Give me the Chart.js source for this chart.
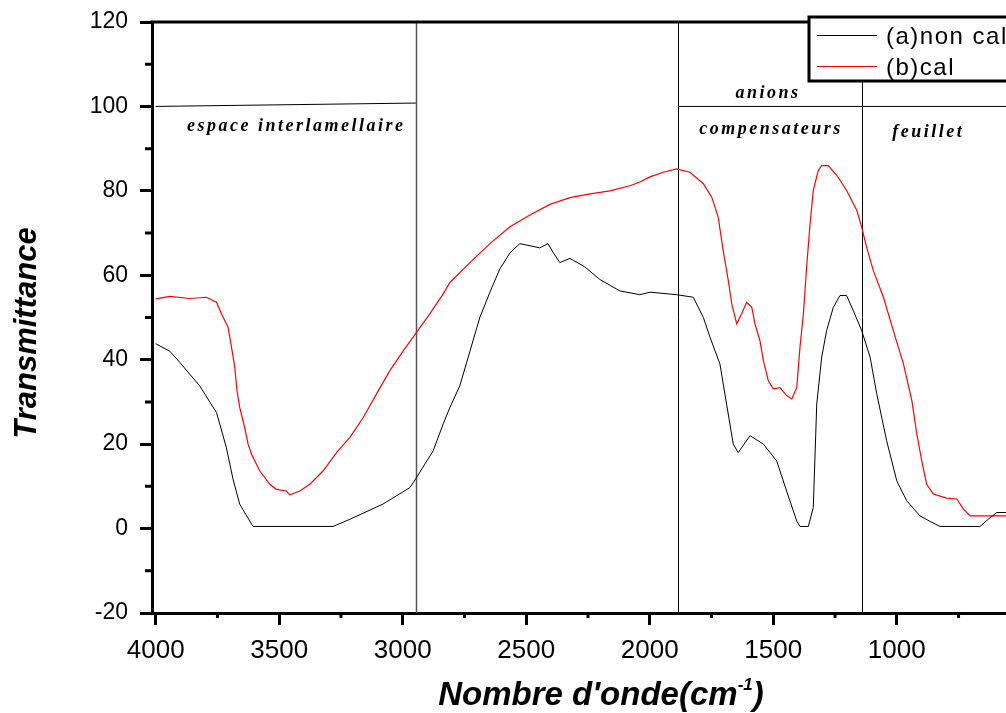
<!DOCTYPE html>
<html>
<head>
<meta charset="utf-8">
<script src="https://cdn.jsdelivr.net/npm/chart.js@4/dist/chart.umd.min.js"></script>
<style>
  html, body { margin: 0; padding: 0; overflow: hidden; background: #fff; }
  #wrap { width: 1060px; height: 713px; }
</style>
</head>
<body>
<div id="wrap"><canvas id="ir" width="1060" height="713"></canvas></div>
<script>
// nombre d'onde (cm-1) et transmittance
const waveA = [4000, 3943, 3903, 3822, 3754, 3714, 3687, 3660, 3606, 3282, 3214, 3080, 2971, 2944, 2877, 2836, 2809, 2769, 2728, 2688,
  2647, 2607, 2566, 2526, 2445, 2412, 2392, 2364, 2323, 2263, 2202, 2121, 2040, 1999, 1891, 1824, 1783, 1756, 1716, 1689,
  1662, 1642, 1594, 1540, 1486, 1446, 1405, 1392, 1358, 1338, 1324, 1304, 1284, 1257, 1230, 1203, 1176, 1142, 1108, 1081,
  1041, 1000, 960, 906, 865, 825, 744, 663, 622, 595, 558, 500, 400];
const transA = [43.8, 42, 39.4, 33.8, 27.5, 19.2, 11.7, 5.8, 0.5, 0.5, 2.2, 5.8, 9.7, 12.1, 18.4, 24.8, 28.7, 33.8, 42, 50,
  56, 61.5, 65.3, 67.5, 66.5, 67.5, 65.5, 63, 64, 62, 59, 56.3, 55.4, 56, 55.4, 54.8, 50, 45.3, 39, 29.5,
  20, 18, 22, 20, 16, 8.9, 1.8, 0.5, 0.5, 5, 29.5, 40.6, 46.9, 52.4, 55.2, 55.2, 51.6, 46.9, 40.6, 31.9,
  20.8, 11.3, 6.6, 3, 1.7, 0.5, 0.5, 0.5, 2.6, 3.8, 3.8, 4.5, 5];

const waveB = [4000, 3943, 3862, 3795, 3754, 3734, 3707, 3693, 3680, 3671, 3660, 3640, 3626, 3612, 3579, 3538, 3511, 3471, 3457, 3417,
  3376, 3322, 3268, 3214, 3160, 3106, 3052, 2998, 2944, 2890, 2836, 2809, 2728, 2647, 2566, 2485, 2404, 2323, 2242, 2161,
  2080, 2040, 1999, 1945, 1891, 1837, 1783, 1749, 1723, 1703, 1682, 1668, 1648, 1628, 1608, 1587, 1574, 1554, 1540, 1520,
  1500, 1473, 1446, 1425, 1405, 1392, 1378, 1365, 1351, 1338, 1318, 1304, 1277, 1243, 1203, 1162, 1142, 1122, 1095, 1054,
  1014, 973, 939, 919, 899, 879, 852, 798, 757, 730, 703, 622, 558, 500, 400];
const transB = [54.4, 55, 54.5, 54.8, 53.6, 50.9, 47.7, 42.9, 38.2, 32.7, 28.7, 24, 20, 17.6, 13.7, 10.5, 9.3, 8.9, 8, 8.9,
  10.5, 13.7, 18, 21.6, 26.3, 31.9, 37.4, 42.1, 46.5, 50.9, 55.6, 58.3, 63, 67.5, 71.5, 74.3, 76.8, 78.4, 79.3, 80,
  81.2, 82.1, 83.3, 84.4, 85.2, 84.4, 81.7, 78.5, 73.8, 65.9, 58.7, 53.2, 48.5, 50.9, 53.6, 52.4, 48.5, 44.5, 39.8, 35,
  33.1, 33.4, 31.5, 30.7, 33.4, 42.9, 50.9, 61.9, 72.2, 80.1, 84.8, 86, 86, 83.7, 80.1, 75.4, 71.4, 66.6, 61.1, 54.8,
  46.9, 39, 30.3, 22.4, 16.1, 10.5, 8.2, 7.2, 7, 4.6, 3, 3, 3, 3, 3];

const seriesNames = ['(a)non cal', '(b)cal'];
const xTicks = [4000, 3500, 3000, 2500, 2000, 1500, 1000];
const xMinor = [3750, 3250, 2750, 2250, 1750, 1250, 750];
const yTicks = [-20, 0, 20, 40, 60, 80, 100, 120];
const yMinor = [-10, 10, 30, 50, 70, 90, 110];

// zones du spectre
const zoneLines = [2947, 1886, 1141];
const zoneTexts = ['espace interlamellaire', 'anions', 'compensateurs', 'feuillet'];
const zoneTextX = [3431, 1521, 1509, 873];
const zoneTextY = [95.3, 103.1, 94.6, 93.9];

const pts = (xs, ys) => xs.map((x, i) => ({ x: x, y: ys[i] }));

const decor = {
  id: 'decor',
  beforeDatasetsDraw(chart) {
    const { ctx, chartArea: a, scales: { x, y } } = chart;
    ctx.save();
    // lignes de séparation des zones
    zoneLines.forEach((w, i) => {
      const px = Math.round(x.getPixelForValue(w)) + 0.5;
      ctx.strokeStyle = i === 0 ? '#555' : '#000';
      ctx.lineWidth = i === 0 ? 1.5 : 1;
      ctx.beginPath();
      ctx.moveTo(px, a.top);
      ctx.lineTo(px, a.bottom);
      ctx.stroke();
    });
    ctx.strokeStyle = '#000';
    ctx.lineWidth = 1;
    ctx.beginPath();
    ctx.moveTo(x.getPixelForValue(4000), y.getPixelForValue(100));
    ctx.lineTo(x.getPixelForValue(zoneLines[0]), y.getPixelForValue(100.8));
    ctx.moveTo(x.getPixelForValue(zoneLines[1]), y.getPixelForValue(100));
    ctx.lineTo(a.right, y.getPixelForValue(100));
    ctx.stroke();

    ctx.fillStyle = '#000';
    ctx.font = 'italic bold 18px "Liberation Serif", "Times New Roman", serif';
    ctx.textAlign = 'center';
    ctx.textBaseline = 'middle';
    ctx.letterSpacing = '2.5px';
    zoneTexts.forEach((t, i) => {
      ctx.fillText(t, x.getPixelForValue(zoneTextX[i]), y.getPixelForValue(zoneTextY[i]));
    });
    ctx.restore();
  },
  afterDraw(chart) {
    const { ctx, chartArea: a, scales: { x, y } } = chart;
    ctx.save();
    ctx.strokeStyle = '#000';
    ctx.lineWidth = 3;
    ctx.beginPath();
    // cadre du haut
    ctx.moveTo(a.left - 1.5, a.top);
    ctx.lineTo(a.right, a.top);
    // graduations secondaires
    yMinor.forEach(v => {
      const py = y.getPixelForValue(v);
      ctx.moveTo(a.left - 7, py);
      ctx.lineTo(a.left, py);
    });
    xMinor.forEach(v => {
      const px = x.getPixelForValue(v);
      ctx.moveTo(px, a.bottom);
      ctx.lineTo(px, a.bottom + 5);
    });
    ctx.stroke();

    // légende
    ctx.fillStyle = '#fff';
    ctx.fillRect(809, 17, 300, 64);
    ctx.strokeRect(809, 17, 300, 64);
    chart.data.datasets.forEach((ds, i) => {
      const ly = i === 0 ? 35 : 66;
      ctx.strokeStyle = ds.borderColor;
      ctx.lineWidth = 1;
      ctx.beginPath();
      ctx.moveTo(817, ly + 0.5);
      ctx.lineTo(877, ly + 0.5);
      ctx.stroke();
      ctx.fillStyle = '#000';
      ctx.font = '24px "Liberation Sans", Arial, sans-serif';
      ctx.letterSpacing = '1.5px';
      ctx.textBaseline = 'middle';
      ctx.textAlign = 'left';
      ctx.fillText(ds.label, 886, ly + 2);
    });
    ctx.letterSpacing = '0px';

    // titres des axes
    ctx.fillStyle = '#000';
    ctx.font = 'italic bold 31px "Liberation Sans", Arial, sans-serif';
    ctx.textAlign = 'center';
    ctx.textBaseline = 'middle';
    ctx.save();
    ctx.translate(27, 333);
    ctx.rotate(-Math.PI / 2);
    ctx.fillText('Transmittance', 0, 0);
    ctx.restore();

    const big = 'italic bold 33px "Liberation Sans", Arial, sans-serif';
    const small = 'italic bold 17px "Liberation Sans", Arial, sans-serif';
    ctx.textAlign = 'left';
    ctx.textBaseline = 'alphabetic';
    ctx.font = big;
    const w1 = ctx.measureText("Nombre d'onde(cm").width;
    const w3 = ctx.measureText(')').width;
    ctx.font = small;
    const w2 = ctx.measureText('-1').width;
    const sx = 601 - (w1 + w2 + w3) / 2;
    ctx.font = big;
    ctx.fillText("Nombre d'onde(cm", sx, 705);
    ctx.font = small;
    ctx.fillText('-1', sx + w1, 690);
    ctx.font = big;
    ctx.fillText(')', sx + w1 + w2, 705);
    ctx.restore();
  }
};

new Chart(document.getElementById('ir'), {
  type: 'line',
  data: {
    datasets: [
      { label: seriesNames[0], data: pts(waveA, transA), borderColor: '#000000', borderWidth: 1, pointRadius: 0, tension: 0, fill: false },
      { label: seriesNames[1], data: pts(waveB, transB), borderColor: '#ff0000', borderWidth: 1.2, pointRadius: 0, tension: 0, fill: false }
    ]
  },
  options: {
    responsive: false,
    animation: false,
    layout: { padding: { top: 22, right: 15, left: 0, bottom: 0 } },
    plugins: { legend: { display: false }, tooltip: { enabled: false } },
    scales: {
      x: {
        type: 'linear',
        reverse: true,
        min: 400,
        max: 4015,
        afterBuildTicks: axis => { axis.ticks = xTicks.map(v => ({ value: v })); },
        afterFit: s => { s.height = 100; s.paddingLeft = 0; s.paddingRight = 0; },
        grid: { drawOnChartArea: false, tickLength: 12, tickWidth: 3, tickColor: '#000' },
        border: { width: 3, color: '#000' },
        ticks: { color: '#000', font: { family: '"Liberation Sans", Arial, sans-serif', size: 26 }, padding: 10, maxRotation: 0, callback: v => String(v) }
      },
      y: {
        min: -20,
        max: 120,
        afterBuildTicks: axis => { axis.ticks = yTicks.map(v => ({ value: v })); },
        afterFit: s => { s.width = 152; s.paddingTop = 0; s.paddingBottom = 0; },
        grid: { drawOnChartArea: false, tickLength: 12, tickWidth: 3, tickColor: '#000' },
        border: { width: 3, color: '#000' },
        ticks: { color: '#000', font: { family: '"Liberation Sans", Arial, sans-serif', size: 23 }, padding: 12, callback: v => String(v) }
      }
    }
  },
  plugins: [decor]
});
</script>
</body>
</html>
